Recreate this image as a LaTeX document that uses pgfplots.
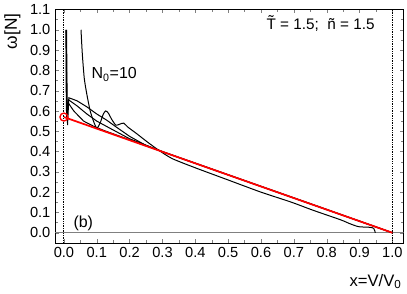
\documentclass[border=0pt]{standalone}
\usepackage{pgfplots}
\pgfplotsset{compat=1.18}
\usepackage{fontspec}
\setmainfont{Liberation Sans}
\begin{document}
\begin{tikzpicture}[x=1pt,y=1pt]
\begin{axis}[
  scale only axis,
  width=262pt, height=175.5pt,
  xmin=-0.027, xmax=1.034,
  ymin=-0.05, ymax=1.1,
  xtick={0,0.1,...,1.0},
  ytick={0,0.1,...,1.1},
  minor x tick num=1,
  minor y tick num=1,
  tick align=inside,
  major tick length=3pt,
  minor tick length=2pt,
  xticklabel style={/pgf/number format/.cd,fixed,fixed zerofill,precision=1},
  yticklabel style={/pgf/number format/.cd,fixed,fixed zerofill,precision=1},
  /pgf/number format/assume math mode=true,
  tick label style={font=\fontsize{11}{12}\selectfont},
  axis line style={line width=0.6pt},
  clip=true,
]
\addplot[gray, line width=0.4pt, forget plot] coordinates {(-0.1,0) (1.1,0)};
\addplot[black, line width=0.7pt, dash pattern=on 1pt off 0.8pt] coordinates {(0,-0.1) (0,1.2)};
\addplot[black, line width=0.7pt, dash pattern=on 1pt off 0.8pt] coordinates {(1,-0.1) (1,1.2)};
% N0 = 10
\addplot[black, line width=0.75pt, smooth, tension=0.4] coordinates {
(0.052,1.0) (0.056,0.88) (0.062,0.76) (0.07,0.68) (0.08,0.6) (0.09,0.55) (0.1,0.515)
(0.11,0.54) (0.12,0.585) (0.127,0.6) (0.135,0.59) (0.145,0.56) (0.158,0.53)
(0.17,0.535) (0.182,0.54) (0.195,0.52) (0.22,0.49) (0.255,0.446) (0.29,0.405)
(0.33,0.365) (0.4,0.32) (0.5,0.26) (0.6,0.2) (0.69,0.152) (0.76,0.11)
(0.842,0.064) (0.87,0.045) (0.897,0.03) (0.93,0.027) (0.943,0.022) (0.948,0.0)};
% larger N0
\addplot[black, line width=0.75pt] coordinates {
(0.008,1.0) (0.009,0.8) (0.010,0.62) (0.011,0.53) (0.013,0.6) (0.015,0.665)
(0.04,0.65) (0.07,0.62) (0.1,0.585) (0.13,0.555) (0.16,0.52) (0.2,0.475)
(0.25,0.43) (0.3,0.399) (0.4,0.342) (0.6,0.228) (0.8,0.114) (1.0,0.0)};
\addplot[black, line width=0.75pt] coordinates {
(0.007,1.0) (0.008,0.75) (0.009,0.6) (0.0105,0.55) (0.012,0.62) (0.014,0.655)
(0.04,0.625) (0.07,0.585) (0.1,0.55) (0.14,0.515) (0.2,0.463) (0.3,0.4)
(0.5,0.286) (0.8,0.115) (1.0,0.0)};
\addplot[black, line width=0.75pt] coordinates {
(0.006,1.0) (0.007,0.7) (0.008,0.58) (0.0095,0.56) (0.011,0.6) (0.013,0.64)
(0.03,0.6) (0.06,0.55) (0.09,0.525) (0.12,0.505) (0.2,0.458) (0.3,0.399)
(0.6,0.228) (1.0,0.0)};
% red line
\addplot[red, line width=1.3pt] coordinates {(0,0.57) (1.0,0.0)};
\addplot[red, only marks, mark=o, mark size=3pt, mark options={line width=1pt}] coordinates {(0,0.57)};
\node[anchor=west, font=\fontsize{12}{14}\selectfont] at (axis cs:0.07,0.78) {N\textsubscript{0}=10};
\node[anchor=west, font=\fontsize{12}{14}\selectfont] at (axis cs:0.015,0.045) {(b)};
\node[anchor=east, font=\fontsize{11.5}{14}\selectfont] at (axis cs:0.96,1.03) {\~{T} = 1.5;\ \ ñ = 1.5};
\end{axis}
\node[rotate=90, anchor=east, font=\fontsize{13}{15}\selectfont] at (-32pt,176pt) {ω[N]};
\node[anchor=north east, font=\fontsize{12.5}{15}\selectfont] at (264pt,-20pt) {x=V/V\textsubscript{0}};
\end{tikzpicture}
\end{document}
